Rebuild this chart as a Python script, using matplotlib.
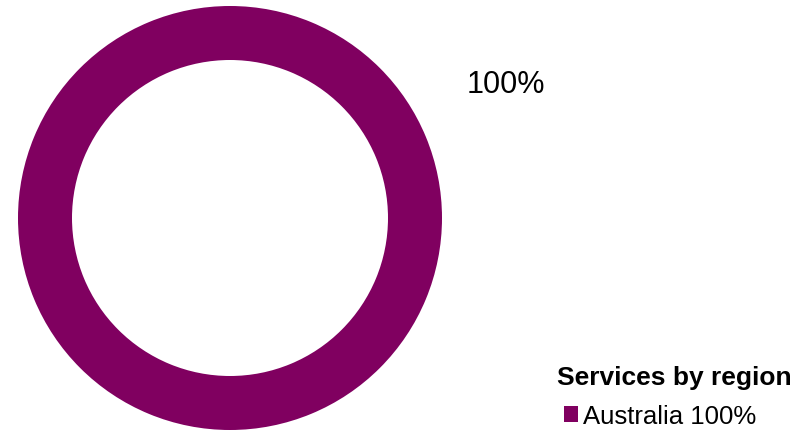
import matplotlib.pyplot as plt

plt.rcParams['font.family'] = ['Liberation Sans', 'DejaVu Sans']

regions = ['Australia']
shares = [100]
colors = ['#800060']
legend_title = 'Services by region'

fig = plt.figure(figsize=(8.11, 4.31), dpi=100)
ax = fig.add_axes([0, 0, 1, 1])

# donut in pixel coordinates
wedges, _ = ax.pie(shares, colors=colors, center=(230, 219), radius=212,
                   startangle=90, counterclock=False,
                   wedgeprops=dict(width=54, linewidth=0))
ax.set_xlim(0, 811)
ax.set_ylim(431, 0)
ax.set_aspect('equal')
ax.axis('off')

ax.text(506, 85, '%d%%' % shares[0], fontsize=22, ha='center', va='center')

# legend title sits a little left of the entries
ax.text(557, 385, legend_title, fontsize=19, fontweight='bold',
        ha='left', va='baseline')

labels = ['%s %d%%' % (r, s) for r, s in zip(regions, shares)]
leg = ax.legend(wedges, labels, frameon=False,
                loc='lower left', bbox_to_anchor=(564 / 811, 2 / 431),
                bbox_transform=fig.transFigure,
                fontsize=18.5, handlelength=0.55, handleheight=0.55,
                handletextpad=0.2, borderpad=0, borderaxespad=0)

fig.savefig('out.png', dpi=100)
